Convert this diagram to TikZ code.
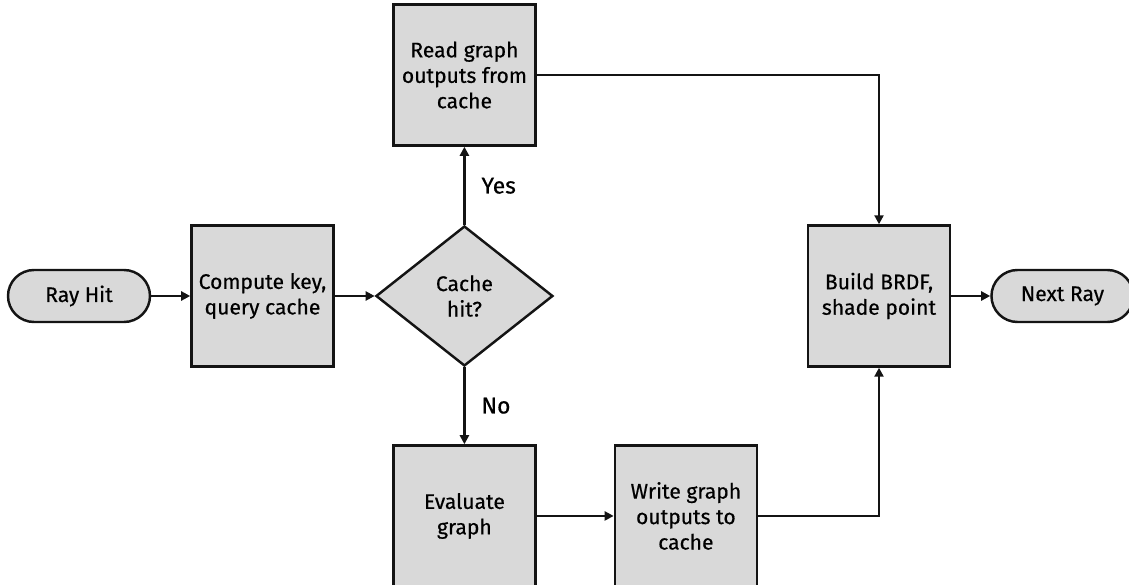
\documentclass[tikz,border=0pt]{standalone}
\usepackage{fontspec}
\setmainfont{Fira Sans}
\newfontfamily\boxfont{Fira Sans}[FakeBold=0.5]
\usepackage{xcolor}
\usepackage{tikz}
\usetikzlibrary{arrows.meta,positioning,shapes.geometric}
\definecolor{boxgray}{RGB}{217,217,217}
\definecolor{edgeblack}{RGB}{20,20,20}
\tikzset{
  procbox/.style={draw=edgeblack, line width=1.4pt, fill=boxgray,
    minimum width=2.84cm, minimum height=2.82cm, align=center,
    font=\boxfont\fontsize{12}{14.5}\selectfont},
  termbox/.style={draw=edgeblack, line width=1.4pt, fill=boxgray, rounded corners=0.52cm,
    minimum width=2.84cm, minimum height=1.04cm, align=center,
    font=\boxfont\fontsize{12}{14.5}\selectfont},
  choicebox/.style={diamond, draw=edgeblack, line width=1.4pt, fill=boxgray,
    minimum width=3.54cm, minimum height=2.8cm, inner sep=0pt, align=center,
    font=\boxfont\fontsize{12}{14.5}\selectfont},
  flow/.style={-{Triangle[length=1.8mm, width=1.8mm]}, line width=1.4pt, draw=edgeblack},
  branch/.style={font=\boxfont\fontsize{13}{15}\selectfont}
}
\begin{document}
\begin{tikzpicture}[node distance=7.8mm and 7.8mm]
\useasboundingbox (0,0) rectangle (22.58,-11.70);
\node[termbox] (ray) at (1.58,-5.92) {Ray Hit};
\node[procbox, right=of ray] (key) {Compute key,\\query cache};
\node[choicebox, right=8mm of key] (hit) {Cache\\hit?};
\node[procbox, above=15.6mm of hit] (read) {Read graph\\outputs from\\cache};
\node[procbox, below=15.4mm of hit] (eval) {Evaluate\\graph};
\node[procbox, right=15.4mm of eval] (write) {Write graph\\outputs to\\cache};
\node[procbox] (brdf) at (17.58,-5.92) {Build BRDF,\\shade point};
\node[termbox, right=of brdf] (next) {Next Ray};

\draw[flow] (ray) -- (key);
\draw[flow] (key) -- (hit);
\draw[flow] (hit) -- node[branch, right=2mm] {Yes} (read);
\draw[flow] (hit) -- node[branch, right=2mm] {No} (eval);
\draw[flow] (eval) -- (write);
\draw[flow] (read) -| (brdf);
\draw[flow] (write) -| (brdf);
\draw[flow] (brdf) -- (next);
\end{tikzpicture}
\end{document}
